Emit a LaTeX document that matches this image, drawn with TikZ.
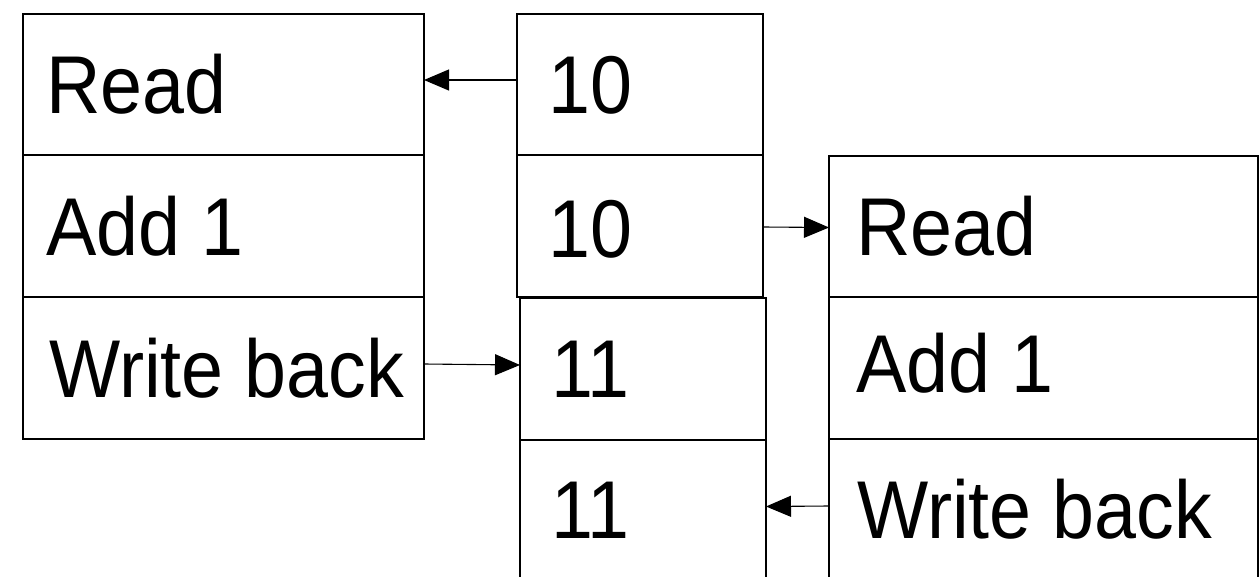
\documentclass[tikz,border=0pt]{standalone}
\usepackage{fontspec}
\setmainfont[FakeStretch=0.92]{Liberation Sans}
\usetikzlibrary{arrows.meta}
\begin{document}
\begin{tikzpicture}[x=1pt,y=-1pt,
  cell/.style={draw, line width=1.8pt, inner sep=0pt, outer sep=0pt},
  txt/.style={anchor=base west, inner sep=0pt, font=\fontsize{82}{98}\selectfont},
  arr/.style={-{Triangle[length=25pt,width=21pt]}, line width=1.1pt}]
\useasboundingbox (0,0) rectangle (1259,576);
\clip (0,0) rectangle (1259,576);
% left column
\node[cell, minimum width=401pt, minimum height=141pt] (l1) at (223.5,84.5) {};
\node[cell, minimum width=401pt, minimum height=142pt] (l2) at (223.5,226) {};
\node[cell, minimum width=401pt, minimum height=142pt] (l3) at (223.5,368) {};
% middle column
\node[cell, minimum width=246pt, minimum height=141pt] (m1) at (640,84.5) {};
\node[cell, minimum width=246pt, minimum height=142pt] (m2) at (640,226) {};
\node[cell, minimum width=246pt, minimum height=142pt] (m3) at (643,369) {};
\node[cell, minimum width=246pt, minimum height=150pt] (m4) at (643,515) {};
% right column
\node[cell, minimum width=429pt, minimum height=141pt] (r1) at (1043.5,226.5) {};
\node[cell, minimum width=429pt, minimum height=142pt] (r2) at (1043.5,368) {};
\node[cell, minimum width=429pt, minimum height=151pt] (r3) at (1043.5,514.5) {};
% texts
\node[txt] (tl1) at (46,113) {Read};
\node[txt] (tl2) at (46,255) {Add 1};
\node[txt] (tl3) at (49,397) {Write back};
\node[txt] (tm1) at (548,113) {10};
\node[txt] (tm2) at (548,257) {10};
\node[txt] (tm3) at (551,397) {11};
\node[txt] (tm4) at (551,538) {11};
\node[txt] (tr1) at (856,255) {Read};
\node[txt] (tr2) at (856,392) {Add 1};
\node[txt] (tr3) at (857,538) {Write back};
% arrows
\draw[arr] ([yshift=4.5pt]m1.west) -- ([yshift=4.5pt]l1.east);
\draw[arr] ([yshift=-1pt]m2.east) -- ([yshift=-1pt]r1.west);
\draw[arr] ([yshift=4pt]l3.east) -- ([yshift=4pt]m3.west);
\draw[arr] ([yshift=8.5pt]r3.west) -- ([yshift=8.5pt]m4.east);
\end{tikzpicture}
\end{document}
